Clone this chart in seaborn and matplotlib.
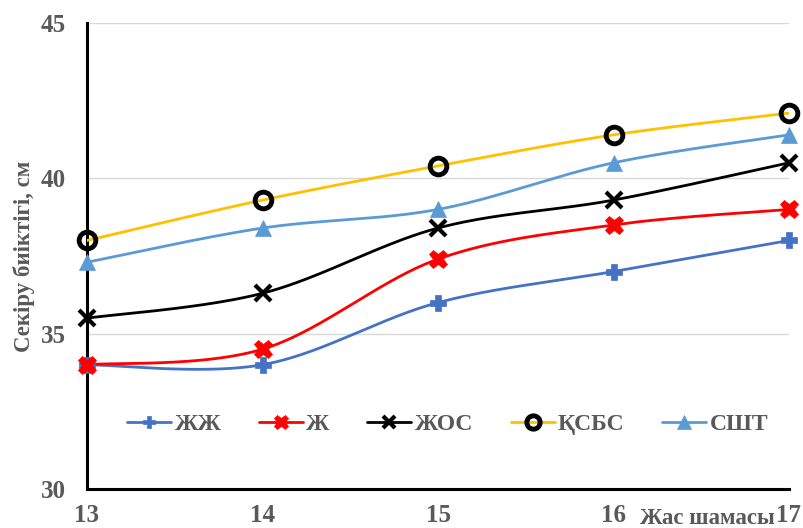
import numpy as np
import pandas as pd
import matplotlib
matplotlib.use("Agg")
import matplotlib.pyplot as plt
import seaborn as sns
from matplotlib.lines import Line2D
from matplotlib import font_manager as fm

# Age groups and jump-height series (cm)
ages = [13, 14, 15, 16, 17]
zhzh = [34.0, 34.0, 36.0, 37.0, 38.0]
zh = [34.0, 34.5, 37.4, 38.5, 39.0]
zhos = [35.5, 36.3, 38.4, 39.3, 40.5]
ksbs = [38.0, 39.3, 40.4, 41.4, 42.1]
sht = [37.3, 38.4, 39.0, 40.5, 41.4]

series_names = ["ЖЖ", "Ж", "ЖОС", "ҚСБС", "СШТ"]
series_values = [zhzh, zh, zhos, ksbs, sht]

y_ticks = [30, 35, 40, 45]
x_label = "Жас шамасы"
y_label = "Секіру биіктігі, см"

styles = {
    "ЖЖ": dict(color="#4472C4", marker="P", mfc="#4472C4", mec="#4472C4", ms=11, mew=0.5),
    "Ж": dict(color="#FF0000", marker="X", mfc="#FF0000", mec="#FF0000", ms=13, mew=0.5),
    "ЖОС": dict(color="#000000", marker="x", mfc="#000000", mec="#000000", ms=11, mew=3),
    "ҚСБС": dict(color="#FFC000", marker="o", mfc="none", mec="#000000", ms=12, mew=3.5),
    "СШТ": dict(color="#5B9BD5", marker="^", mfc="#5B9BD5", mec="#5B9BD5", ms=12, mew=0.5),
}


def smooth(xs, ys, n=40):
    """Cubic Bezier smoothing through every point (Catmull-Rom style)."""
    xs = np.asarray(xs, float)
    ys = np.asarray(ys, float)
    pts = np.column_stack([xs, ys])
    out = []
    for i in range(len(pts) - 1):
        p0 = pts[i - 1] if i > 0 else pts[i]
        p1 = pts[i]
        p2 = pts[i + 1]
        p3 = pts[i + 2] if i + 2 < len(pts) else pts[i + 1]
        c1 = p1 + (p2 - p0) / 6.0
        c2 = p2 - (p3 - p1) / 6.0
        t = np.linspace(0, 1, n, endpoint=(i == len(pts) - 2))[:, None]
        seg = ((1 - t) ** 3) * p1 + 3 * ((1 - t) ** 2) * t * c1 + 3 * (1 - t) * t ** 2 * c2 + t ** 3 * p2
        out.append(seg)
    arr = np.vstack(out)
    return arr[:, 0], arr[:, 1]


def bold_serif(size):
    """Upright bold Liberation Serif, picked straight from the font list."""
    for f in fm.fontManager.ttflist:
        if f.name == "Liberation Serif" and f.weight in (700, "bold") and f.style == "normal":
            return fm.FontProperties(fname=f.fname, size=size)
    return fm.FontProperties(family="serif", weight="bold", size=size)


sns.set_theme(style="white")
plt.rcParams["font.family"] = ["Liberation Serif", "DejaVu Serif"]

fig = plt.figure(figsize=(8.04, 5.28), dpi=100)
ax = fig.add_axes([87 / 804, 1 - 489 / 528, (789 - 87) / 804, (489 - 23) / 528])

text_color = "#595959"

for name, vals in zip(series_names, series_values):
    st = styles[name]
    sx, sy = smooth(ages, vals)
    curve = pd.DataFrame({"x": sx, "y": sy})
    sns.lineplot(data=curve, x="x", y="y", ax=ax, color=st["color"], lw=2.0,
                 sort=False, estimator=None, zorder=3)
    pts = pd.DataFrame({"x": ages, "y": vals})
    ax.plot(pts["x"], pts["y"], ls="none", marker=st["marker"], ms=st["ms"],
            mfc=st["mfc"], mec=st["mec"], mew=st["mew"], zorder=5, clip_on=False)

ax.set_xlim(13, 17)
ax.set_ylim(30, 45)
ax.set_xticks(ages)
ax.set_yticks(y_ticks)
ax.yaxis.grid(True, color="#D9D9D9", lw=1.0)
ax.xaxis.grid(False)
ax.set_axisbelow(True)

for side in ["top", "right"]:
    ax.spines[side].set_visible(False)
for side in ["left", "bottom"]:
    ax.spines[side].set_color("black")
    ax.spines[side].set_linewidth(2.2)

ax.tick_params(axis="both", direction="in", length=6, width=2, color="black",
               labelcolor=text_color)
ax.tick_params(axis="y", pad=15)
ax.tick_params(axis="x", pad=11)
tick_font = bold_serif(18)
for lbl in ax.get_xticklabels() + ax.get_yticklabels():
    lbl.set_fontproperties(tick_font)

ax.set_xlabel("")
ax.set_ylabel(y_label, fontproperties=bold_serif(16.5), color=text_color, labelpad=4)
fig.text(707 / 804, 1 - 519 / 528, x_label, fontproperties=bold_serif(16.5),
         color=text_color, ha="center", va="center")

handles = []
for name in series_names:
    st = styles[name]
    handles.append(Line2D([0], [0], color=st["color"], lw=2.0, marker=st["marker"],
                          ms=st["ms"] * 0.8, mfc=st["mfc"], mec=st["mec"], mew=st["mew"]))
leg = ax.legend(handles, series_names, loc="center", bbox_to_anchor=(0.514, 0.139),
                ncol=5, frameon=False, handlelength=1.85, handletextpad=0.15,
                columnspacing=1.6, prop=bold_serif(17))
for t in leg.get_texts():
    t.set_color(text_color)

fig.savefig("out.png", dpi=100)
